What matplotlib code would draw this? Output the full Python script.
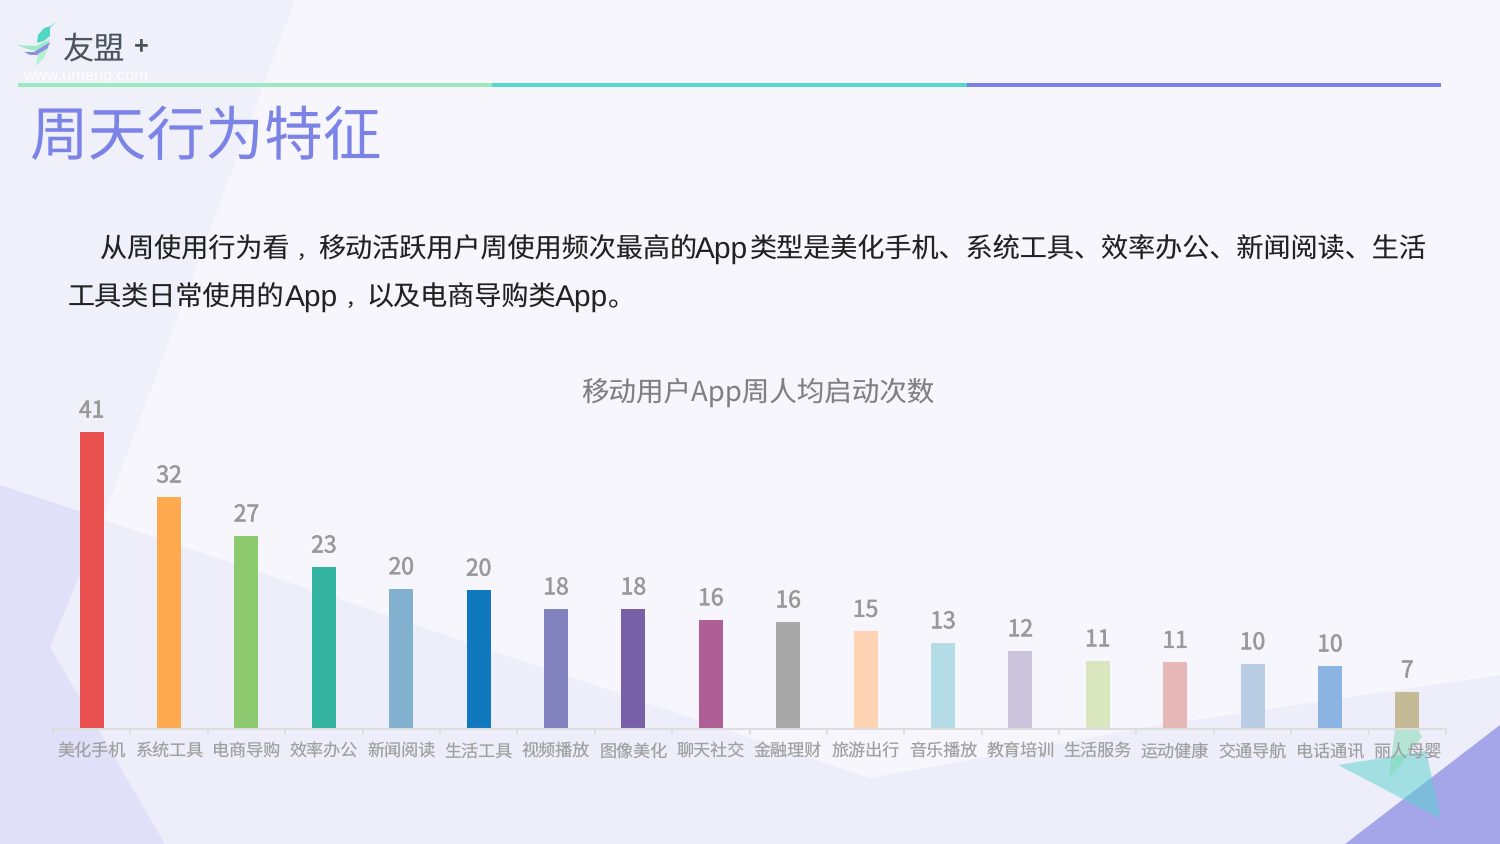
import matplotlib
matplotlib.use("Agg")
import matplotlib.pyplot as plt
import matplotlib.patheffects as pe
from matplotlib.patches import Polygon, Rectangle

plt.rcParams['font.family'] = ['Noto Sans CJK SC', 'DejaVu Sans']
plt.rcParams['text.hinting'] = 'none'

categories = ["美化手机", "系统工具", "电商导购", "效率办公", "新闻阅读", "生活工具",
              "视频播放", "图像美化", "聊天社交", "金融理财", "旅游出行", "音乐播放",
              "教育培训", "生活服务", "运动健康", "交通导航", "电话通讯", "丽人母婴"]
# bar heights as drawn, the printed labels do not follow them exactly
bar_values = [41.0, 32.0, 26.6, 22.3, 19.3, 19.1, 16.5, 16.5, 15.0, 14.7, 13.4, 11.8,
              10.7, 9.3, 9.1, 8.9, 8.6, 5.0]
value_labels = ["41", "32", "27", "23", "20", "20", "18", "18", "16", "16", "15", "13",
                "12", "11", "11", "10", "10", "7"]
bar_colors = ["#E95050", "#FCA950", "#8DC96E", "#32B4A0", "#82B1CF", "#1078BE",
              "#8282BE", "#7860A8", "#AE6096", "#A8A8A8", "#FFD4B4", "#B4DCE6",
              "#CCC4DC", "#DAE6BE", "#E6B8B8", "#B8CCE4", "#8CB4E2", "#C4BA96"]

title = "周天行为特征"
chart_title = "移动用户App周人均启动次数"
# body text split in runs because the comma and the latin word are spaced wider than the font does
body_runs = [
    (100, 258, "从周使用行为看"), (297, 258, "，"), (318, 258, "移动活跃用户周使用频次最高的"),
    (695, 258, "App"), (750, 258, "类型是美化手机、系统工具、效率办公、新闻阅读、生活"),
    (68, 306, "工具类日常使用的"), (285, 306, "App"), (346, 306, "，"),
    (366, 306, "以及电商导购类"), (555, 306, "App"), (608, 306, "。"),
]

fig = plt.figure(figsize=(15, 8.44), dpi=100)

# page layer in pixel coordinates
bg = fig.add_axes([0, 0, 1, 1])
bg.set_xlim(0, 1500)
bg.set_ylim(844, 0)
bg.axis("off")
bg.add_patch(Rectangle((0, 0), 1500, 844, color="#F8F6FD", lw=0))
bg.add_patch(Polygon([(0, 0), (295, 0), (103, 519), (0, 485)], color="#F0F0FB", lw=0))
bg.add_patch(Polygon([(0, 485), (870, 778), (1160, 725), (1500, 675), (1500, 844), (0, 844)],
                     color="#EEEEFA", lw=0))
bg.add_patch(Polygon([(0, 485), (103, 519), (50, 647), (165, 844), (0, 844)], color="#E0E0F9", lw=0))
bg.add_patch(Polygon([(1500, 725), (1500, 844), (1345, 844)], color="#A5A6EA", lw=0))
bg.add_patch(Polygon([(1338, 765), (1426, 751), (1441, 819)], color="#56D2CE", alpha=0.5, lw=0))
bg.add_patch(Polygon([(1395, 728), (1418, 728), (1422, 737), (1389, 779)], color="#7FDCB0", alpha=0.5, lw=0))

# logo
bg.add_patch(Polygon([(58, 20), (51, 26), (44, 28), (38, 35), (37, 43), (44, 41), (50, 36), (50, 28)],
                     color="#52D6C4", lw=0))
bg.add_patch(Polygon([(17, 45), (36, 46), (50, 39), (46, 48), (36, 51), (27, 49)], color="#A0EAC8", lw=0))
bg.add_patch(Polygon([(24, 52), (34, 52), (50, 42), (47, 50), (38, 55), (30, 55)], color="#8C90E4", lw=0))
bg.add_patch(Polygon([(36, 66), (38, 54), (48, 48), (44, 58)], color="#B4F0D4", lw=0))
bg.text(63, 58, "友盟", fontsize=22.5, color="#4A5560", va="baseline", ha="left")
bg.text(141, 47, "+", fontsize=18, color="#4A5560", va="center", ha="center",
        path_effects=[pe.withStroke(linewidth=0.4, foreground="#4A5560")])
bg.text(23, 76, "www.umeng.com", fontsize=11.8, color="white", va="center", ha="left",
        family=["Liberation Sans"], alpha=0.9)

# header rule
bg.add_patch(Rectangle((18, 83), 474, 4, color="#9BE9BE", lw=0))
bg.add_patch(Rectangle((492, 83), 475, 4, color="#55D9CE", lw=0))
bg.add_patch(Rectangle((967, 83), 474, 4, color="#7B80E8", lw=0))

bg.text(29, 138, title, fontsize=42.3, color="#7B84E6", va="center", ha="left")
for run_x, run_y, run in body_runs:
    if run == "App":
        bg.text(run_x, run_y, run, fontsize=21.5, color="#222222", va="baseline", ha="left",
                family=["Liberation Sans"])
    elif run == "，":
        bg.text(run_x, run_y, run, fontsize=14, color="#222222", va="baseline", ha="left")
    else:
        bg.text(run_x, run_y, run, fontsize=19.5, color="#222222", va="baseline", ha="left")

# chart, one data unit is 296/41 px
ax = fig.add_axes([53 / 1500, (844 - 728) / 844, 1393 / 1500, 340 / 844])
ax.patch.set_alpha(0)
x = range(len(categories))
ax.bar(x, bar_values, width=0.31, color=bar_colors)
ax.set_xlim(-0.5, len(categories) - 0.5)
ax.set_ylim(0, 340 * 41 / 296)
for s in ("top", "left", "right"):
    ax.spines[s].set_visible(False)
ax.spines["bottom"].set_color("#DDDDDD")
ax.spines["bottom"].set_linewidth(1.5)
ax.spines["bottom"].set_position(("outward", 0.72))
ax.set_yticks([])
ax.set_xticks([i - 0.5 for i in range(len(categories) + 1)])
ax.set_xticklabels([])
ax.tick_params(axis="x", length=4, width=1.2, color="#DDDDDD")
for i, name in enumerate(categories):
    ax.annotate(name, (i, 0), xytext=(0, -29), textcoords="offset pixels",
                ha="center", va="baseline", fontsize=12.3, color="#A0A0A0")
for i, (v, lab) in enumerate(zip(bar_values, value_labels)):
    ax.annotate(lab, (i, v), xytext=(0, 14.5), textcoords="offset pixels",
                ha="center", va="baseline", fontsize=16.5, color="#999999",
                path_effects=[pe.withStroke(linewidth=0.4, foreground="#999999")])

bg.text(758, 401, chart_title, fontsize=19.8, color="#808080", va="baseline", ha="center")

fig.savefig("out.png", dpi=100)
